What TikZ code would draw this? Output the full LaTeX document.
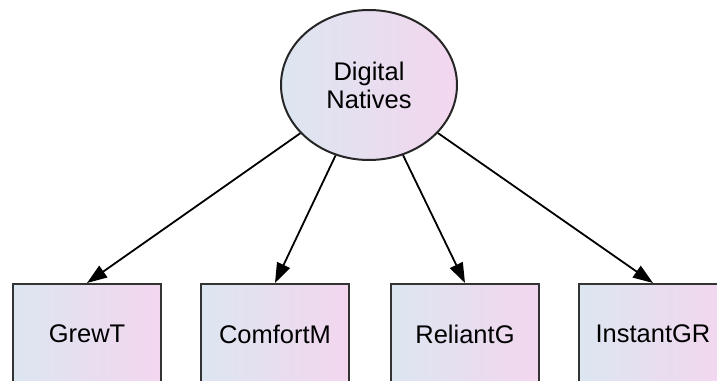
\documentclass[tikz,border=0pt]{standalone}
\usepackage{fontspec}
\setmainfont{Liberation Sans}
\usetikzlibrary{arrows.meta,shapes.geometric}
\definecolor{shadeL}{HTML}{DCE6F0}
\definecolor{shadeR}{HTML}{F3D6EF}
\tikzset{
  latent/.style={ellipse,draw=black!85,line width=2pt,minimum width=176pt,minimum height=150pt,
    left color=shadeL,right color=shadeR,font=\fontsize{25.5}{28}\selectfont,align=center,inner sep=0pt},
  observed/.style={rectangle,draw=black!80,line width=2pt,minimum width=148pt,minimum height=100pt,
    left color=shadeL,right color=shadeR,font=\fontsize{25.5}{28}\selectfont,inner sep=0pt},
  path/.style={line width=1.8pt,-{Triangle[length=20pt,width=14pt]}}
}

\begin{document}
\begin{tikzpicture}[x=1pt,y=-1pt]
    \useasboundingbox (0,0) rectangle (717,380);
    \begin{scope}
    \clip (0,0) rectangle (717,380);
    \node[latent] (dn) at (369,85) {Digital\\Natives};
    \node[observed,anchor=north] (grew) at (87,283) {GrewT};
    \node[observed,anchor=north] (comf) at (275,283) {ComfortM};
    \node[observed,anchor=north] (reli) at (465,283) {ReliantG};
    \node[observed,anchor=north] (inst) at (653,283) {InstantGR};
    \draw[path] (dn) -- (grew.north);
    \draw[path] (dn) -- (comf.north);
    \draw[path] (dn) -- (reli.north);
    \draw[path] (dn) -- (inst.north);
    \end{scope}
  \end{tikzpicture}
\end{document}
